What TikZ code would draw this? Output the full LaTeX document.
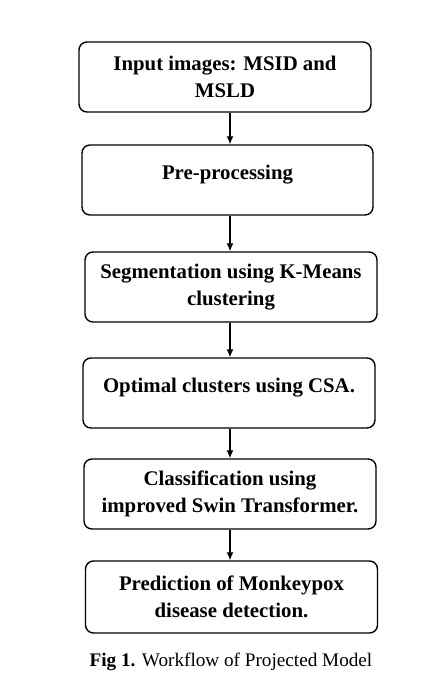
\documentclass[tikz,border=0pt]{standalone}
\usepackage{fontspec}
\setmainfont{Liberation Serif}
\usetikzlibrary{arrows.meta}

\begin{document}
\begin{tikzpicture}[x=1pt, y=-1pt,
  stage/.style={rectangle, rounded corners=8pt, draw, line width=1.4pt,
    minimum width=292pt, minimum height=70pt, align=center,
    font=\fontsize{20.8}{27}\selectfont\bfseries},
  single/.style={text depth=15pt},
  flow/.style={line width=1.3pt, -{Latex[length=8pt,width=7pt]}}]
\useasboundingbox (0,0) rectangle (443,693);

\node[stage] (input) at (225,77) {Input images: MSID and\\MSLD};
\node[stage, single, minimum width=291pt] (prep) at (227.5,180) {Pre-processing};
\node[stage] (seg) at (231,287) {Segmentation using K-Means\\clustering};
\node[stage, single] (opt) at (229,393) {Optimal clusters using CSA.};
\node[stage] (cls) at (230,494) {Classification using\\improved Swin Transformer.};
\node[stage, minimum height=72pt] (pred) at (231.5,597) {Prediction of Monkeypox\\disease detection.};

\coordinate (axis) at (230,0);
\draw[flow] (input.south -| axis) -- (prep.north -| axis);
\draw[flow] (prep.south -| axis) -- (seg.north -| axis);
\draw[flow] (seg.south -| axis) -- (opt.north -| axis);
\draw[flow] (opt.south -| axis) -- (cls.north -| axis);
\draw[flow] (cls.south -| axis) -- (pred.north -| axis);

\node[font=\fontsize{19.2}{23}\selectfont] (caption) at (231,662) {\textbf{Fig 1.} Workflow of Projected Model};

\end{tikzpicture}
\end{document}
